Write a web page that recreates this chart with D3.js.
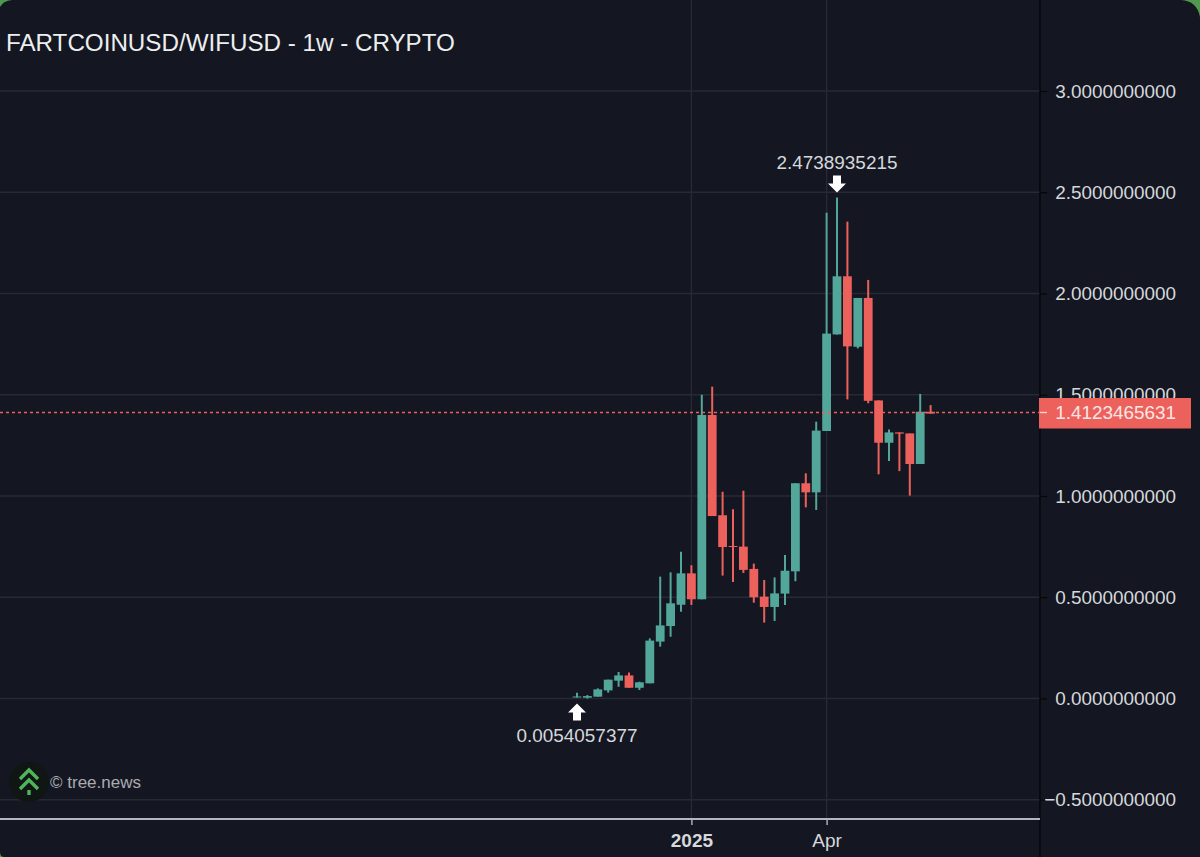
<!DOCTYPE html>
<html><head><meta charset="utf-8">
<script src="https://cdn.jsdelivr.net/npm/d3@7"></script>
<style>
html,body{margin:0;padding:0;background:#141721;overflow:hidden}
text{font-family:"Liberation Sans",Arial,sans-serif}
</style></head><body><svg id="c" width="1200" height="857"></svg>
<script>
const weeks=["2024-10-14","2024-10-21","2024-10-28","2024-11-04","2024-11-11","2024-11-18","2024-11-25","2024-12-02","2024-12-09","2024-12-16","2024-12-23","2024-12-30","2025-01-06","2025-01-13","2025-01-20","2025-01-27","2025-02-03","2025-02-10","2025-02-17","2025-02-24","2025-03-03","2025-03-10","2025-03-17","2025-03-24","2025-03-31","2025-04-07","2025-04-14","2025-04-21","2025-04-28","2025-05-05","2025-05-12","2025-05-19","2025-05-26","2025-06-02","2025-06-09"];
const opens=[0.0054,0.004,0.009,0.04,0.088,0.114,0.053,0.075,0.281,0.358,0.463,0.618,0.49,1.4,0.905,0.753,0.75,0.64,0.503,0.452,0.518,0.628,1.063,1.018,1.321,1.798,2.085,1.737,1.978,1.472,1.263,1.314,1.309,1.158,1.416];
const highs=[0.028,0.017,0.05,0.093,0.131,0.128,0.083,0.297,0.602,0.623,0.725,0.658,1.5,1.54,1.021,0.934,1.026,0.666,0.585,0.598,0.709,1.063,1.112,1.367,2.399,2.4739,2.355,1.978,2.067,1.472,1.329,1.314,1.309,1.504,1.449];
const lows=[0.0054,0,0.009,0.029,0.058,0.053,0.042,0.075,0.256,0.305,0.429,0.462,0.49,0.901,0.607,0.575,0.62,0.473,0.375,0.383,0.462,0.579,0.944,0.931,1.321,1.798,1.477,1.729,1.458,1.107,1.173,1.123,1.002,1.158,1.407];
const closes=[0.01,0.012,0.045,0.093,0.114,0.053,0.08,0.286,0.361,0.47,0.618,0.49,1.4,0.901,0.748,0.75,0.635,0.5,0.452,0.519,0.631,1.063,1.018,1.323,1.802,2.085,1.739,1.978,1.47,1.263,1.314,1.308,1.158,1.416,1.407];
const yTicks=[-0.5,0,0.5,1,1.5,2,2.5,3];
const xTickWeeks=["2024-12-30","2025-03-31"];
const xTickLabels=["2025","Apr"];
const lastPrice=1.4123465631, maxPrice=2.4738935215, minPrice=0.0054057377;
const title="FARTCOINUSD/WIFUSD - 1w - CRYPTO";
const credit="© tree.news";

const UP="#52a69a",DOWN="#ec615c",BG="#141721",GRID="#272a34",TXT="#d6d8dc";
const W=1200,H=857,plotR=1040,plotB=819;
const y=d3.scaleLinear().domain([0,3]).range([698.5,91]);
const x=d3.scalePoint().domain(weeks).range([577,577+10.4*(weeks.length-1)]);
const svg=d3.select("#c");

svg.append("rect").attr("width",W).attr("height",H).attr("fill","#4f9a4c");
svg.append("path").attr("fill",BG)
  .attr("d",`M12,0H${W-19}Q${W-3},1 ${W},17V${H}H4Q0,${H} 0,${H-5}V7Q3,1 12,0Z`);

// grid
svg.append("g").selectAll("line").data(yTicks).join("line")
  .attr("x1",0).attr("x2",plotR).attr("y1",d=>y(d)).attr("y2",d=>y(d))
  .attr("stroke",GRID).attr("stroke-width",1.4);
svg.append("g").selectAll("line").data(xTickWeeks).join("line")
  .attr("x1",d=>x(d)).attr("x2",d=>x(d)).attr("y1",0).attr("y2",plotB)
  .attr("stroke",GRID).attr("stroke-width",1.4);

// candles
const data=weeks.map((w,i)=>({w,o:opens[i],h:highs[i],l:lows[i],c:closes[i]}));
const color=d=>d.c>=d.o?UP:DOWN;
const g=svg.append("g");
g.selectAll("line").data(data).join("line")
  .attr("x1",d=>x(d.w)).attr("x2",d=>x(d.w)).attr("y1",d=>y(d.h)).attr("y2",d=>y(d.l))
  .attr("stroke",color).attr("stroke-width",2);
g.selectAll("rect").data(data).join("rect")
  .attr("x",d=>x(d.w)-4.4).attr("width",8.8)
  .attr("y",d=>y(Math.max(d.o,d.c)))
  .attr("height",d=>Math.max(1,Math.abs(y(d.o)-y(d.c))))
  .attr("fill",color);

// last price line
svg.append("line").attr("x1",0).attr("x2",plotR).attr("y1",y(lastPrice)).attr("y2",y(lastPrice))
  .attr("stroke",DOWN).attr("stroke-width",1.4).attr("stroke-dasharray","3 3");

// y axis
const yAxis=d3.axisRight(y).tickValues(yTicks).tickSize(7).tickPadding(8)
  .tickFormat(d=>(d<0?"\u2212":"")+Math.abs(d).toFixed(10));
const ya=svg.append("g").attr("transform",`translate(${plotR},0)`).call(yAxis);
ya.select(".domain").remove();
ya.selectAll("line").attr("stroke","#05060a").attr("stroke-width",1.2);
ya.selectAll("text").attr("fill",TXT).attr("font-size",18.9).attr("x",136).attr("text-anchor","end");
svg.append("line").attr("x1",plotR).attr("x2",plotR).attr("y1",0).attr("y2",H).attr("stroke","#05060a").attr("stroke-width",1.4);

// last price label
svg.append("rect").attr("x",1039).attr("y",398).attr("width",152).attr("height",30.5).attr("fill",DOWN);
svg.append("line").attr("x1",1040).attr("x2",1047).attr("y1",y(lastPrice)).attr("y2",y(lastPrice)).attr("stroke","#f6d4d2").attr("stroke-width",1.4);
svg.append("text").attr("x",1176).attr("y",y(lastPrice)+7).attr("text-anchor","end").attr("fill","#fbe6e4")
  .attr("font-size",18.9).text(lastPrice.toFixed(10));

// x axis
svg.append("line").attr("x1",0).attr("x2",plotR).attr("y1",plotB).attr("y2",plotB).attr("stroke","#b4b6bf").attr("stroke-width",2.2);
const xAxis=d3.axisBottom(x).tickValues(xTickWeeks).tickSize(6).tickPadding(9)
  .tickFormat(d=>xTickLabels[xTickWeeks.indexOf(d)]);
const xa=svg.append("g").attr("transform",`translate(0,${plotB})`).call(xAxis);
xa.select(".domain").remove();
xa.selectAll("line").attr("stroke","#b4b6bf").attr("stroke-width",1.4);
xa.selectAll("text").attr("fill",TXT).attr("font-size",19)
  .attr("font-weight",d=>d==="2024-12-30"?"bold":"normal");

// title
svg.append("text").attr("x",6).attr("y",51).attr("fill","#eceef0").attr("font-size",24.2).text(title);

// high / low markers
const arrow="M0,0 L-9,-9 L-4,-9 L-4,-17 L4,-17 L4,-9 L9,-9 Z";
const hi=weeks[25],lo=weeks[0];
svg.append("path").attr("d",arrow).attr("fill","#fff").attr("transform",`translate(${x(hi)},${y(maxPrice)-5})`);
svg.append("text").attr("x",x(hi)).attr("y",y(maxPrice)-29).attr("text-anchor","middle").attr("fill",TXT).attr("font-size",18.9).text(maxPrice.toFixed(10));
svg.append("path").attr("d",arrow).attr("fill","#fff").attr("transform",`translate(${x(lo)},${y(minPrice)+6}) scale(1,-1)`);
svg.append("text").attr("x",x(lo)).attr("y",y(minPrice)+44.5).attr("text-anchor","middle").attr("fill",TXT).attr("font-size",18.9).text(minPrice.toFixed(10));

// logo
const logo=svg.append("g").attr("transform","translate(29,782)");
logo.append("circle").attr("r",20).attr("fill","#0f1614");
logo.append("path").attr("fill","none").attr("stroke","#4fb45a").attr("stroke-width",3.4)
  .attr("d","M-9,-3 L0,-12 L9,-3 M-9,7 L0,-2 L9,7 M0,8 V13");
svg.append("text").attr("x",50).attr("y",788).attr("fill","#a9abb0").attr("font-size",17).text(credit);
</script></body></html>
